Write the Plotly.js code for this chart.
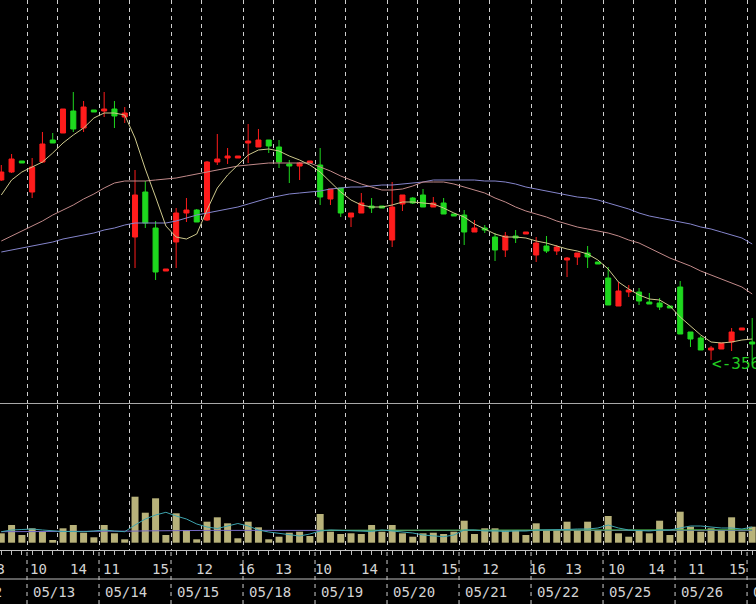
<!DOCTYPE html>
<html><head><meta charset="utf-8">
<script src="https://cdn.plot.ly/plotly-3.0.1.min.js"></script>
<style>html,body{margin:0;padding:0;background:#000;overflow:hidden}#chart{width:756px;height:604px}</style>
</head><body><div id="chart"></div>
<script>
// Hourly bars, 05/12 13:00 .. 05/27 9:00 (7 bars per day: 9..15)
const dayLabels = ['05/12','05/13','05/14','05/15','05/18','05/19','05/20','05/21','05/22','05/25','05/26','05/27'];
const hourLabels = ['13','10','14','11','15','12','16','13','10','14','11','15','12','16','13','10','14','11','15'];
const lowMarkText = '<-3560';

const open = [3740,3748,3759,3728,3758,3780,3787,3809,3792,3810,
  3809,3811,3803,3683,3728,3692,3649,3678,3707,3710,
  3700,3758,3762,3762,3777,3773,3780,3773,3756,3754,
  3757,3755,3721,3732,3703,3707,3714,3714,3680,3716,
  3722,3725,3713,3717,3706,3705,3688,3692,3683,3670,
  3684,3686,3665,3674,3669,3660,3663,3667,3658,3642,
  3614,3628,3628,3618,3617,3614,3633,3588,3582,3570,
  3571,3578,3590,3578];
const high = [3755,3766,3759,3762,3788,3787,3811,3828,3819,3810,
  3828,3819,3813,3750,3739,3699,3651,3712,3722,3711,
  3759,3786,3772,3764,3796,3791,3780,3780,3760,3758,
  3759,3772,3731,3732,3707,3727,3722,3714,3738,3725,
  3723,3731,3723,3722,3706,3710,3700,3695,3687,3688,
  3690,3688,3683,3684,3675,3663,3667,3674,3658,3653,
  3638,3635,3632,3627,3622,3614,3639,3588,3584,3574,
  3577,3592,3592,3602];
const low = [3739,3747,3757,3722,3757,3777,3787,3788,3788,3808,
  3803,3792,3797,3652,3692,3640,3649,3652,3698,3698,
  3699,3755,3756,3762,3757,3773,3767,3752,3737,3740,
  3757,3715,3715,3703,3693,3707,3707,3712,3673,3709,
  3716,3713,3713,3706,3704,3675,3688,3687,3659,3663,
  3677,3686,3658,3667,3665,3643,3655,3652,3656,3615,
  3614,3623,3615,3616,3610,3612,3586,3573,3570,3560,
  3571,3569,3590,3560];
const close = [3748,3761,3757,3753,3776,3777,3811,3791,3813,3808,
  3811,3804,3807,3725,3697,3648,3651,3707,3710,3698,
  3758,3761,3764,3764,3779,3780,3774,3758,3754,3757,
  3759,3723,3731,3707,3707,3717,3712,3712,3713,3725,
  3717,3713,3717,3706,3704,3688,3692,3690,3670,3684,
  3682,3688,3677,3669,3673,3662,3667,3663,3656,3615,
  3629,3630,3619,3616,3613,3612,3586,3581,3570,3572,
  3577,3588,3592,3576];

const maShort = [3725,3740,3748,3753,3758,3767,3777,3785,3792,3802,
  3807,3807,3805,3782,3751,3723,3694,3683,3681,3686,
  3710,3732,3745,3755,3765,3770,3771,3769,3764,3760,
  3755,3748,3738,3728,3720,3715,3713,3713,3715,3718,
  3718,3717,3716,3712,3707,3703,3696,3691,3686,3683,
  3683,3682,3679,3677,3674,3671,3669,3666,3660,3651,
  3638,3631,3625,3621,3620,3614,3603,3594,3585,3578,
  3577,3578,3580,3581];
const maMid = [3679,3684,3689,3694,3699,3705,3710,3715,3721,3726,
  3732,3737,3739,3739,3739,3740,3741,3742,3744,3746,
  3748,3750,3752,3754,3755,3756,3757,3757,3757,3757,
  3757,3753,3749,3744,3740,3736,3733,3730,3730,3731,
  3734,3738,3738,3738,3736,3733,3730,3727,3722,3718,
  3713,3709,3706,3703,3699,3696,3693,3691,3689,3687,
  3684,3680,3677,3672,3667,3662,3658,3654,3649,3645,
  3641,3637,3633,3626];
const maLong = [3668,3670,3672,3674,3676,3678,3681,3683,3685,3687,
  3690,3692,3695,3697,3697,3697,3697,3699,3702,3705,
  3707,3709,3711,3713,3716,3719,3722,3724,3726,3727,
  3728,3729,3731,3732,3733,3733,3734,3735,3735,3736,
  3737,3738,3740,3740,3740,3740,3740,3739,3739,3738,
  3736,3733,3731,3729,3727,3725,3723,3722,3720,3717,
  3714,3711,3707,3704,3702,3700,3698,3696,3693,3691,
  3688,3685,3682,3676];

const volume = [94,177,77,144,110,27,144,177,100,54,
  177,94,34,460,300,444,77,294,127,34,
  210,254,194,44,210,154,34,60,100,110,
  67,287,110,87,94,87,177,110,177,94,
  60,94,100,87,110,220,87,144,144,127,
  127,77,194,127,127,210,127,210,127,267,
  94,60,127,94,220,77,310,160,110,144,
  127,254,110,160];
const volMaShort = [110,127,132,137,127,117,112,112,110,117,
  127,117,110,177,237,277,304,267,237,187,
  157,142,167,192,167,127,107,94,82,67,
  87,117,127,122,117,112,112,127,117,112,
  97,77,67,60,77,127,127,117,117,112,
  117,117,127,127,127,132,137,137,147,177,
  147,127,122,117,127,127,147,167,167,157,
  147,147,137,157];
const volMaLong = [110,110,110,111,111,111,112,112,112,112,
  113,113,113,116,118,120,121,122,122,122,
  123,123,123,123,122,121,121,120,119,118,
  117,118,118,118,118,118,118,118,118,118,
  117,117,117,117,117,118,118,118,118,118,
  118,118,118,118,118,118,119,119,119,120,
  120,120,120,120,121,121,122,122,122,122,
  122,123,123,123];
const volMaMid = [null,null,null,null,null,null,null,null,null,null,
  null,null,null,null,null,null,null,null,null,null,
  null,null,null,null,null,null,null,null,null,null,
  null,124,124,125,125,125,125,125,124,124,
  124,123,123,123,124,124,125,125,125,125,
  125,125,125,126,126,126,126,127,127,127,
  127,127,127,128,128,128,128,128,128,128,
  129,129,129,129];

// ---------- layout helpers ----------
const idx = open.map((_, i) => i);                // bar index along the time axis
const xRange = [-0.126, 73.37];
const dayStart = [], gridPos = [];
for (let d = 0; d < 11; d++) { dayStart.push(2.5 + 7 * d); gridPos.push(2.5 + 7 * d); if (d < 10) gridPos.push(5.5 + 7 * d); }
const hourPos = [-0.45, 3.57, 7.55, 10.67, 15.43, 19.76, 23.84, 27.48, 31.37, 35.75, 39.51, 43.62, 47.51, 52.15, 55.58, 59.76, 63.65, 67.54, 71.57];
const pxPerBar = 756 / (xRange[1] - xRange[0]);
const toPaperX = v => (v - xRange[0]) / (xRange[1] - xRange[0]);

const labelFont = {family: 'DejaVu Sans Mono, monospace', size: 14, color: '#d4d4d4'};
const row1 = 1 - 569 / 604, row2 = 1 - 592 / 604;

const annotations = [];
hourLabels.forEach((t, k) => {
  const v = hourPos[k];
  if (v < xRange[0]) annotations.push({xref: 'paper', x: toPaperX(v), yref: 'paper', y: row1, text: t, showarrow: false, xanchor: 'center', yanchor: 'middle', font: labelFont});
  else annotations.push({xref: 'x2', x: v, yref: 'paper', y: row1, text: t, showarrow: false, xanchor: 'center', yanchor: 'middle', font: labelFont});
});
dayLabels.forEach((t, k) => {
  if (k === 0) annotations.push({xref: 'paper', x: 4 / 756, yref: 'paper', y: row2, text: t, showarrow: false, xanchor: 'right', yanchor: 'middle', font: labelFont});
  else annotations.push({xref: 'x2', x: dayStart[k - 1] + 0.35, yref: 'paper', y: row2, text: t, showarrow: false, xanchor: 'left', yanchor: 'middle', font: labelFont});
});
annotations.push({xref: 'x', x: 68.9, yref: 'y', y: 3557, text: lowMarkText.replace('<', '&lt;'), showarrow: false, xanchor: 'left', yanchor: 'middle',
  font: {family: 'DejaVu Sans Mono, monospace', size: 16, color: '#22cc22'}});

const shapes = dayStart.map(v => ({type: 'line', xref: 'x2', x0: v, x1: v, yref: 'paper', y0: 0, y1: 1 - 550 / 604,
  line: {color: '#cfcfcf', width: 1, dash: '4px,4px'}}));
shapes.push({type: 'line', xref: 'paper', x0: 0, x1: 1, yref: 'paper', y0: 1 - 579 / 604, y1: 1 - 579 / 604, line: {color: '#bdbdbd', width: 1}});

const gridAxis = (anchor, lineColor) => ({
  domain: [0, 1], anchor: anchor, range: xRange, tickmode: 'array', tickvals: gridPos,
  showticklabels: false, ticks: '', showgrid: true, gridcolor: '#cfcfcf', gridwidth: 1, griddash: '4px,4px',
  zeroline: false, showline: true, linecolor: lineColor, linewidth: 1, fixedrange: true
});

const traces = [
  {type: 'candlestick', x: idx, open: open, high: high, low: low, close: close, xaxis: 'x', yaxis: 'y',
   increasing: {line: {color: '#ff1c1c', width: 1}, fillcolor: '#ff1c1c'},
   decreasing: {line: {color: '#1ed81e', width: 1}, fillcolor: '#1ed81e'},
   whiskerwidth: 0, hoverinfo: 'skip'},
  {type: 'scatter', mode: 'lines', x: idx, y: maLong, xaxis: 'x', yaxis: 'y', line: {color: '#8585cc', width: 1}, hoverinfo: 'skip'},
  {type: 'scatter', mode: 'lines', x: idx, y: maMid, xaxis: 'x', yaxis: 'y', line: {color: '#c28a8a', width: 1}, hoverinfo: 'skip'},
  {type: 'scatter', mode: 'lines', x: idx, y: maShort, xaxis: 'x', yaxis: 'y', line: {color: '#cdc88c', width: 1}, hoverinfo: 'skip'},
  {type: 'bar', x: idx, y: volume, xaxis: 'x2', yaxis: 'y2', marker: {color: '#b8b27a', line: {width: 0}}, hoverinfo: 'skip'},
  {type: 'scatter', mode: 'lines', x: idx, y: volMaLong, xaxis: 'x3', yaxis: 'y2', line: {color: '#7468c4', width: 1}, hoverinfo: 'skip'},
  {type: 'scatter', mode: 'lines', x: idx, y: volMaMid, xaxis: 'x3', yaxis: 'y2', line: {color: '#44b844', width: 1}, hoverinfo: 'skip'},
  {type: 'scatter', mode: 'lines', x: idx, y: volMaShort, xaxis: 'x3', yaxis: 'y2', line: {color: '#3ea4ae', width: 1}, hoverinfo: 'skip'}
];

const mainX = gridAxis('y', '#a8a8a8'); mainX.rangeslider = {visible: false};
const layout = {
  width: 756, height: 604, margin: {l: 0, r: 0, t: 0, b: 0},
  paper_bgcolor: '#000', plot_bgcolor: '#000', showlegend: false, hovermode: false,
  bargap: 0.32,
  xaxis: mainX,
  yaxis: {domain: [1 - 403 / 604, 1], range: [3517, 3920], showgrid: false, showticklabels: false, ticks: '', zeroline: false, fixedrange: true},
  xaxis2: gridAxis('y2', '#c4c4c4'),
  yaxis2: {domain: [1 - 550 / 604, 1 - 405 / 604], range: [-73, 1377], showgrid: false, showticklabels: false, ticks: '', zeroline: false, fixedrange: true},
  xaxis3: {overlaying: 'x2', anchor: 'y2', range: xRange, tickmode: 'array', tickvals: idx, ticks: 'outside', ticklen: 4, tickcolor: '#bdbdbd', tickwidth: 1,
    showticklabels: false, showgrid: false, zeroline: false, showline: false, fixedrange: true},
  annotations: annotations,
  shapes: shapes
};
Plotly.newPlot('chart', traces, layout, {staticPlot: true, displayModeBar: false});
</script>
</body></html>
